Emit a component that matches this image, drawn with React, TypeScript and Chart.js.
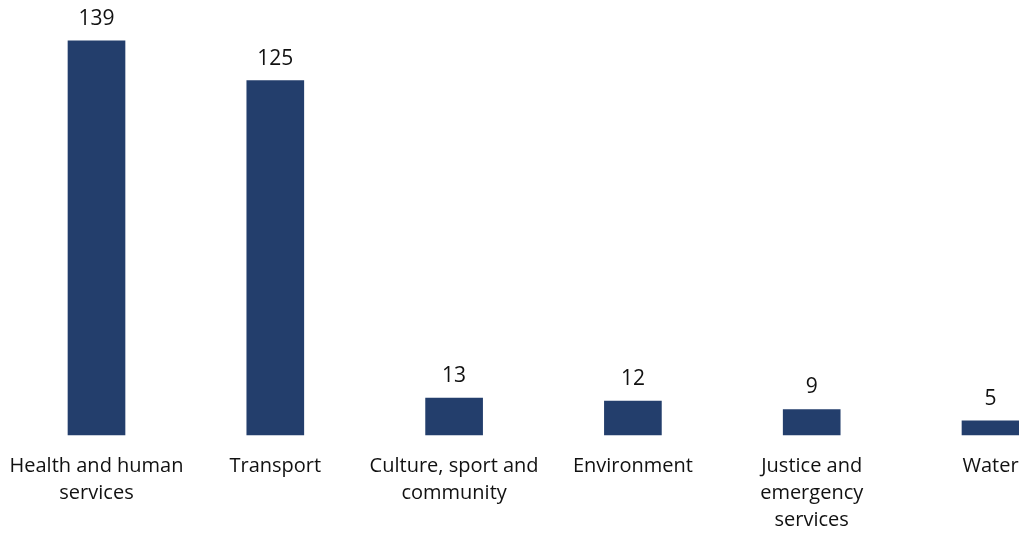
import React, { useEffect, useRef } from "react";
import { Chart, registerables } from "chart.js";

Chart.register(...registerables);

const categories: string[][] = [
  ["Health and human", "services"],
  ["Transport"],
  ["Culture, sport and", "community"],
  ["Environment"],
  ["Justice and", "emergency", "services"],
  ["Water"],
];
const values: number[] = [139, 125, 13, 12, 9, 5];
const barColor = "#233e6c";
const fontFamily = "'Open Sans', 'Noto Sans', sans-serif";

const valueLabels = {
  id: "valueLabels",
  afterDatasetsDraw(chart: any) {
    const ctx = chart.ctx;
    const meta = chart.getDatasetMeta(0);
    ctx.save();
    ctx.font = `21px ${fontFamily}`;
    ctx.fillStyle = "#111111";
    ctx.textAlign = "center";
    ctx.textBaseline = "alphabetic";
    meta.data.forEach((bar: any, i: number) => {
      ctx.fillText(String(values[i]), bar.x, bar.y - 16);
    });
    ctx.restore();
  },
};

export default function App() {
  const ref = useRef<HTMLCanvasElement | null>(null);
  useEffect(() => {
    if (!ref.current) return;
    const chart = new Chart(ref.current, {
      type: "bar",
      data: {
        labels: categories,
        datasets: [
          {
            data: values,
            backgroundColor: barColor,
            borderWidth: 0,
            barThickness: 57,
            clip: false as any,
          },
        ],
      },
      options: {
        animation: false,
        responsive: true,
        maintainAspectRatio: false,
        layout: { padding: { left: 88.5, right: 28.5, top: 30, bottom: -20 } },
        plugins: { legend: { display: false }, tooltip: { enabled: false } },
        scales: {
          x: {
            offset: false,
            grid: { display: false, drawTicks: false },
            border: { display: false },
            afterFit(scale: any) {
              scale.height = 120;
              scale.paddingLeft = 0;
              scale.paddingRight = 0;
            },
            ticks: {
              padding: 18,
              color: "#111111",
              maxRotation: 0,
              autoSkip: false,
              font: { family: fontFamily, size: 20, lineHeight: "27px" as any },
            },
          },
          y: {
            display: false,
            min: 0,
            max: 140,
          },
        },
      },
      plugins: [valueLabels],
    });
    return () => chart.destroy();
  }, []);
  return (
    <div style={{ position: "relative", width: "100%", height: 527, marginBottom: -8 }}>
      <canvas ref={ref} />
    </div>
  );
}
